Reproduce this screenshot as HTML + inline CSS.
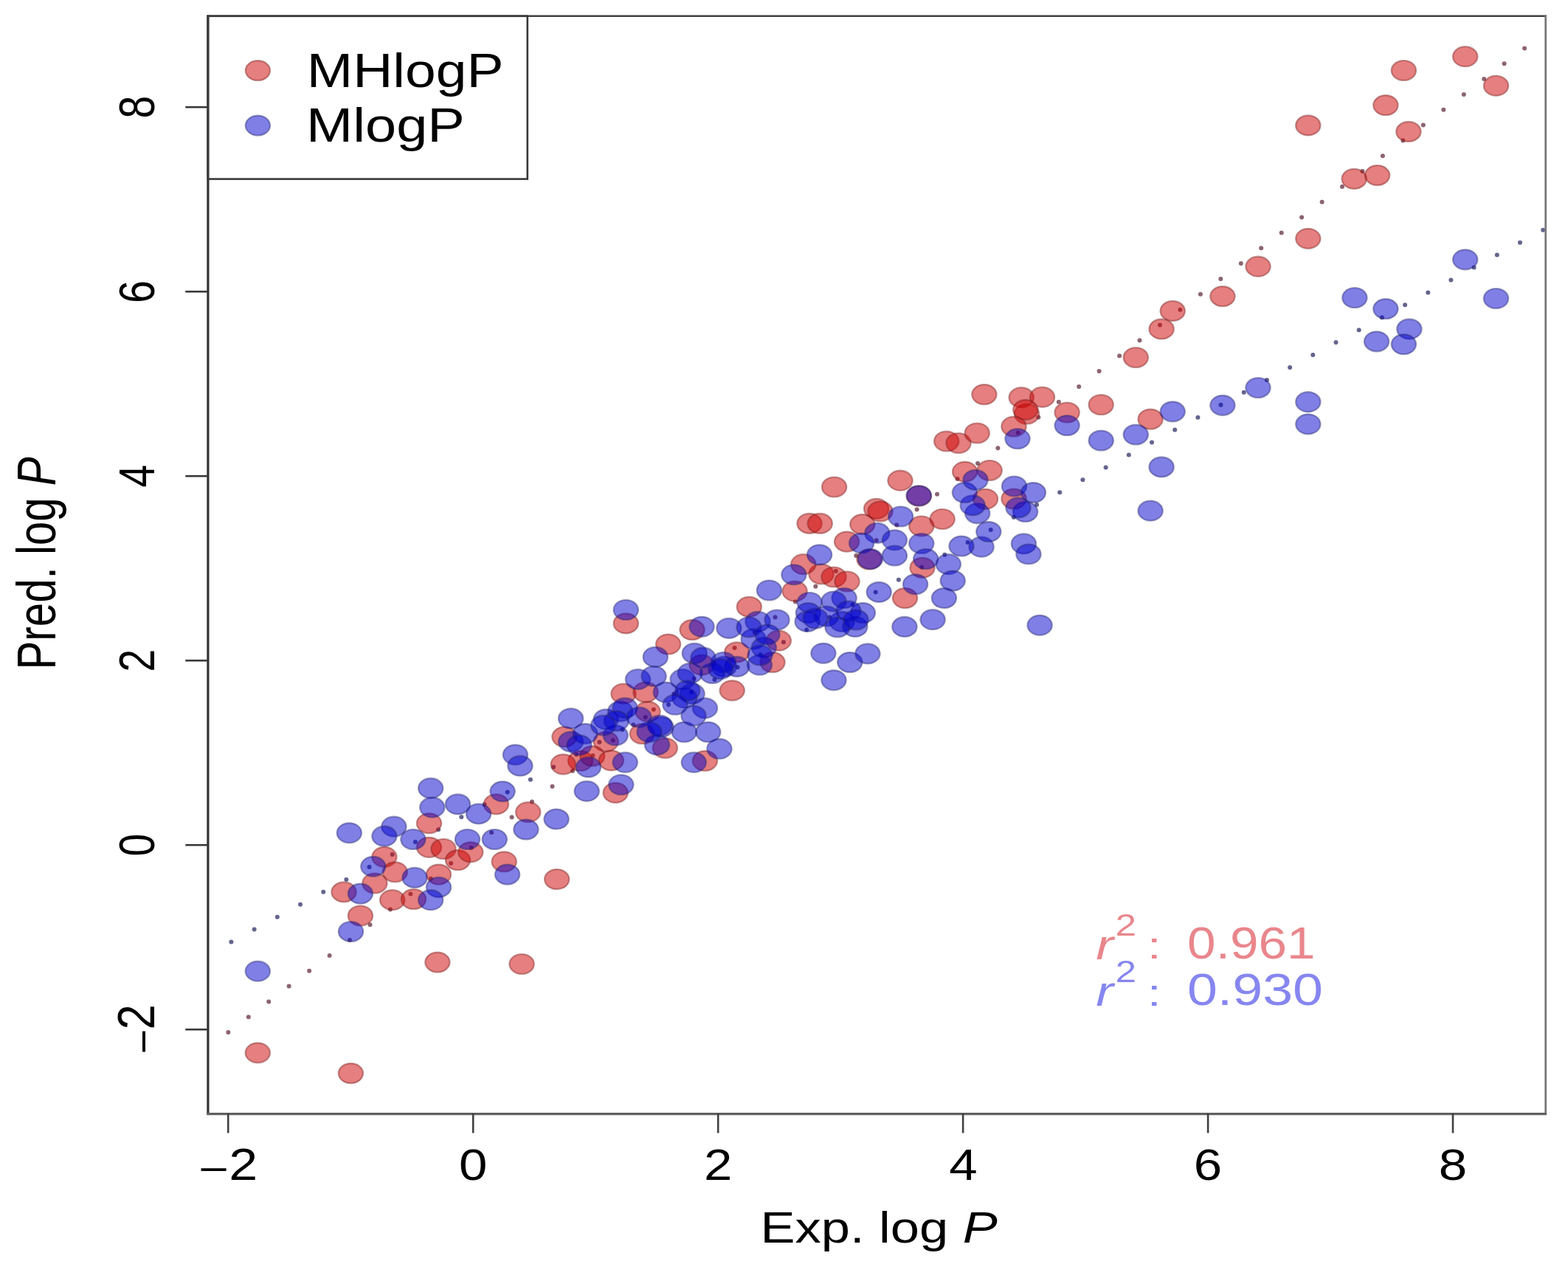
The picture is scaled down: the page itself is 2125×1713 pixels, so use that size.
<!DOCTYPE html>
<html><head><meta charset="utf-8"><title>Exp. log P vs Pred. log P</title>
<style>html,body{margin:0;padding:0;background:#fff;}svg{display:block;}text{font-family:'Liberation Sans',Arial,Helvetica,sans-serif;font-kerning:none}</style></head>
<body><svg xmlns="http://www.w3.org/2000/svg" width="2125" height="1713" viewBox="0 0 2125 1713">
<rect width="2125" height="1713" fill="#fff"/>
<g fill="#8c6470"><circle cx="309.3" cy="1399.1" r="3.0"/><circle cx="336.8" cy="1378.3" r="3.0"/><circle cx="364.2" cy="1357.4" r="3.0"/><circle cx="391.6" cy="1336.6" r="3.0"/><circle cx="419.1" cy="1315.7" r="3.0"/><circle cx="446.6" cy="1294.9" r="3.0"/><circle cx="474.0" cy="1274.1" r="3.0"/><circle cx="501.5" cy="1253.2" r="3.0"/><circle cx="528.9" cy="1232.4" r="3.0"/><circle cx="556.4" cy="1211.5" r="3.0"/><circle cx="583.8" cy="1190.7" r="3.0"/><circle cx="611.2" cy="1169.9" r="3.0"/><circle cx="638.7" cy="1149.0" r="3.0"/><circle cx="666.1" cy="1128.2" r="3.0"/><circle cx="693.6" cy="1107.4" r="3.0"/><circle cx="721.0" cy="1086.5" r="3.0"/><circle cx="748.5" cy="1065.7" r="3.0"/><circle cx="776.0" cy="1044.8" r="3.0"/><circle cx="803.4" cy="1024.0" r="3.0"/><circle cx="830.8" cy="1003.2" r="3.0"/><circle cx="858.3" cy="982.3" r="3.0"/><circle cx="885.8" cy="961.5" r="3.0"/><circle cx="913.2" cy="940.6" r="3.0"/><circle cx="940.7" cy="919.8" r="3.0"/><circle cx="968.1" cy="899.0" r="3.0"/><circle cx="995.5" cy="878.1" r="3.0"/><circle cx="1023.0" cy="857.3" r="3.0"/><circle cx="1050.5" cy="836.4" r="3.0"/><circle cx="1077.9" cy="815.6" r="3.0"/><circle cx="1105.3" cy="794.8" r="3.0"/><circle cx="1132.8" cy="773.9" r="3.0"/><circle cx="1160.2" cy="753.1" r="3.0"/><circle cx="1187.7" cy="732.2" r="3.0"/><circle cx="1215.2" cy="711.4" r="3.0"/><circle cx="1242.6" cy="690.6" r="3.0"/><circle cx="1270.0" cy="669.7" r="3.0"/><circle cx="1297.5" cy="648.9" r="3.0"/><circle cx="1325.0" cy="628.1" r="3.0"/><circle cx="1352.4" cy="607.2" r="3.0"/><circle cx="1379.8" cy="586.4" r="3.0"/><circle cx="1407.3" cy="565.5" r="3.0"/><circle cx="1434.8" cy="544.7" r="3.0"/><circle cx="1462.2" cy="523.9" r="3.0"/><circle cx="1489.6" cy="503.0" r="3.0"/><circle cx="1517.1" cy="482.2" r="3.0"/><circle cx="1544.5" cy="461.3" r="3.0"/><circle cx="1572.0" cy="440.5" r="3.0"/><circle cx="1599.4" cy="419.7" r="3.0"/><circle cx="1626.9" cy="398.8" r="3.0"/><circle cx="1654.3" cy="378.0" r="3.0"/><circle cx="1681.8" cy="357.1" r="3.0"/><circle cx="1709.2" cy="336.3" r="3.0"/><circle cx="1736.7" cy="315.5" r="3.0"/><circle cx="1764.1" cy="294.6" r="3.0"/><circle cx="1791.6" cy="273.8" r="3.0"/><circle cx="1819.0" cy="253.0" r="3.0"/><circle cx="1846.5" cy="232.1" r="3.0"/><circle cx="1873.9" cy="211.3" r="3.0"/><circle cx="1901.4" cy="190.4" r="3.0"/><circle cx="1928.8" cy="169.6" r="3.0"/><circle cx="1956.3" cy="148.8" r="3.0"/><circle cx="1983.8" cy="127.9" r="3.0"/><circle cx="2011.2" cy="107.1" r="3.0"/><circle cx="2038.6" cy="86.2" r="3.0"/><circle cx="2066.1" cy="65.4" r="3.0"/></g>
<g fill="#64648e"><circle cx="313.4" cy="1276.5" r="3.0"/><circle cx="344.6" cy="1259.6" r="3.0"/><circle cx="375.8" cy="1242.7" r="3.0"/><circle cx="407.0" cy="1225.7" r="3.0"/><circle cx="438.2" cy="1208.8" r="3.0"/><circle cx="469.3" cy="1191.9" r="3.0"/><circle cx="500.5" cy="1175.0" r="3.0"/><circle cx="531.7" cy="1158.0" r="3.0"/><circle cx="562.9" cy="1141.1" r="3.0"/><circle cx="594.1" cy="1124.2" r="3.0"/><circle cx="625.3" cy="1107.3" r="3.0"/><circle cx="656.5" cy="1090.3" r="3.0"/><circle cx="687.7" cy="1073.4" r="3.0"/><circle cx="718.9" cy="1056.5" r="3.0"/><circle cx="750.1" cy="1039.6" r="3.0"/><circle cx="781.2" cy="1022.6" r="3.0"/><circle cx="812.4" cy="1005.7" r="3.0"/><circle cx="843.6" cy="988.8" r="3.0"/><circle cx="874.8" cy="971.9" r="3.0"/><circle cx="906.0" cy="954.9" r="3.0"/><circle cx="937.2" cy="938.0" r="3.0"/><circle cx="968.4" cy="921.1" r="3.0"/><circle cx="999.6" cy="904.2" r="3.0"/><circle cx="1030.8" cy="887.2" r="3.0"/><circle cx="1061.9" cy="870.3" r="3.0"/><circle cx="1093.1" cy="853.4" r="3.0"/><circle cx="1124.3" cy="836.5" r="3.0"/><circle cx="1155.5" cy="819.5" r="3.0"/><circle cx="1186.7" cy="802.6" r="3.0"/><circle cx="1217.9" cy="785.7" r="3.0"/><circle cx="1249.1" cy="768.8" r="3.0"/><circle cx="1280.3" cy="751.8" r="3.0"/><circle cx="1311.5" cy="734.9" r="3.0"/><circle cx="1342.7" cy="718.0" r="3.0"/><circle cx="1373.8" cy="701.1" r="3.0"/><circle cx="1405.0" cy="684.1" r="3.0"/><circle cx="1436.2" cy="667.2" r="3.0"/><circle cx="1467.4" cy="650.3" r="3.0"/><circle cx="1498.6" cy="633.4" r="3.0"/><circle cx="1529.8" cy="616.4" r="3.0"/><circle cx="1561.0" cy="599.5" r="3.0"/><circle cx="1592.2" cy="582.6" r="3.0"/><circle cx="1623.4" cy="565.7" r="3.0"/><circle cx="1654.5" cy="548.7" r="3.0"/><circle cx="1685.7" cy="531.8" r="3.0"/><circle cx="1716.9" cy="514.9" r="3.0"/><circle cx="1748.1" cy="498.0" r="3.0"/><circle cx="1779.3" cy="481.0" r="3.0"/><circle cx="1810.5" cy="464.1" r="3.0"/><circle cx="1841.7" cy="447.2" r="3.0"/><circle cx="1872.9" cy="430.3" r="3.0"/><circle cx="1904.1" cy="413.3" r="3.0"/><circle cx="1935.3" cy="396.4" r="3.0"/><circle cx="1966.4" cy="379.5" r="3.0"/><circle cx="1997.6" cy="362.6" r="3.0"/><circle cx="2028.8" cy="345.6" r="3.0"/><circle cx="2060.0" cy="328.7" r="3.0"/><circle cx="2091.2" cy="311.8" r="3.0"/></g>
<g stroke-width="2.2">
<ellipse cx="1985.7" cy="76.7" rx="16.7" ry="13.5" fill="rgba(205,0,0,0.5)" stroke="rgba(120,30,30,0.42)"/>
<ellipse cx="1902.4" cy="95.5" rx="16.7" ry="13.5" fill="rgba(205,0,0,0.5)" stroke="rgba(120,30,30,0.42)"/>
<ellipse cx="2027.5" cy="116.2" rx="16.7" ry="13.5" fill="rgba(205,0,0,0.5)" stroke="rgba(120,30,30,0.42)"/>
<ellipse cx="1877.9" cy="142.6" rx="16.7" ry="13.5" fill="rgba(205,0,0,0.5)" stroke="rgba(120,30,30,0.42)"/>
<ellipse cx="1772.8" cy="169.9" rx="16.7" ry="13.5" fill="rgba(205,0,0,0.5)" stroke="rgba(120,30,30,0.42)"/>
<ellipse cx="1908.9" cy="178.4" rx="16.7" ry="13.5" fill="rgba(205,0,0,0.5)" stroke="rgba(120,30,30,0.42)"/>
<ellipse cx="1835.2" cy="242.4" rx="16.7" ry="13.5" fill="rgba(205,0,0,0.5)" stroke="rgba(120,30,30,0.42)"/>
<ellipse cx="1866.6" cy="237.6" rx="16.7" ry="13.5" fill="rgba(205,0,0,0.5)" stroke="rgba(120,30,30,0.42)"/>
<ellipse cx="1772.8" cy="323.3" rx="16.7" ry="13.5" fill="rgba(205,0,0,0.5)" stroke="rgba(120,30,30,0.42)"/>
<ellipse cx="1705.0" cy="361.2" rx="16.7" ry="13.5" fill="rgba(205,0,0,0.5)" stroke="rgba(120,30,30,0.42)"/>
<ellipse cx="1656.9" cy="401.6" rx="16.7" ry="13.5" fill="rgba(205,0,0,0.5)" stroke="rgba(120,30,30,0.42)"/>
<ellipse cx="1589.2" cy="421.4" rx="16.7" ry="13.5" fill="rgba(205,0,0,0.5)" stroke="rgba(120,30,30,0.42)"/>
<ellipse cx="1574.1" cy="445.9" rx="16.7" ry="13.5" fill="rgba(205,0,0,0.5)" stroke="rgba(120,30,30,0.42)"/>
<ellipse cx="1539.3" cy="484.5" rx="16.7" ry="13.5" fill="rgba(205,0,0,0.5)" stroke="rgba(120,30,30,0.42)"/>
<ellipse cx="1492.2" cy="548.5" rx="16.7" ry="13.5" fill="rgba(205,0,0,0.5)" stroke="rgba(120,30,30,0.42)"/>
<ellipse cx="1446.1" cy="559.0" rx="16.7" ry="13.5" fill="rgba(205,0,0,0.5)" stroke="rgba(120,30,30,0.42)"/>
<ellipse cx="1559.1" cy="568.1" rx="16.7" ry="13.5" fill="rgba(205,0,0,0.5)" stroke="rgba(120,30,30,0.42)"/>
<ellipse cx="1333.9" cy="534.6" rx="16.7" ry="13.5" fill="rgba(205,0,0,0.5)" stroke="rgba(120,30,30,0.42)"/>
<ellipse cx="1384.2" cy="538.7" rx="16.7" ry="13.5" fill="rgba(205,0,0,0.5)" stroke="rgba(120,30,30,0.42)"/>
<ellipse cx="1412.5" cy="538.2" rx="16.7" ry="13.5" fill="rgba(205,0,0,0.5)" stroke="rgba(120,30,30,0.42)"/>
<ellipse cx="1391.5" cy="561.0" rx="16.7" ry="13.5" fill="rgba(205,0,0,0.5)" stroke="rgba(120,30,30,0.42)"/>
<ellipse cx="1374.0" cy="578.0" rx="16.7" ry="13.5" fill="rgba(205,0,0,0.5)" stroke="rgba(120,30,30,0.42)"/>
<ellipse cx="1282.7" cy="598.0" rx="16.7" ry="13.5" fill="rgba(205,0,0,0.5)" stroke="rgba(120,30,30,0.42)"/>
<ellipse cx="1299.0" cy="600.5" rx="16.7" ry="13.5" fill="rgba(205,0,0,0.5)" stroke="rgba(120,30,30,0.42)"/>
<ellipse cx="1324.2" cy="587.0" rx="16.7" ry="13.5" fill="rgba(205,0,0,0.5)" stroke="rgba(120,30,30,0.42)"/>
<ellipse cx="1307.6" cy="639.3" rx="16.7" ry="13.5" fill="rgba(205,0,0,0.5)" stroke="rgba(120,30,30,0.42)"/>
<ellipse cx="1341.2" cy="637.5" rx="16.7" ry="13.5" fill="rgba(205,0,0,0.5)" stroke="rgba(120,30,30,0.42)"/>
<ellipse cx="1335.5" cy="676.3" rx="16.7" ry="13.5" fill="rgba(205,0,0,0.5)" stroke="rgba(120,30,30,0.42)"/>
<ellipse cx="848.3" cy="844.9" rx="16.7" ry="13.5" fill="rgba(205,0,0,0.5)" stroke="rgba(120,30,30,0.42)"/>
<ellipse cx="834.2" cy="1074.4" rx="16.7" ry="13.5" fill="rgba(205,0,0,0.5)" stroke="rgba(120,30,30,0.42)"/>
<ellipse cx="955.4" cy="1031.1" rx="16.7" ry="13.5" fill="rgba(205,0,0,0.5)" stroke="rgba(120,30,30,0.42)"/>
<ellipse cx="992.2" cy="935.8" rx="16.7" ry="13.5" fill="rgba(205,0,0,0.5)" stroke="rgba(120,30,30,0.42)"/>
<ellipse cx="938.1" cy="853.6" rx="16.7" ry="13.5" fill="rgba(205,0,0,0.5)" stroke="rgba(120,30,30,0.42)"/>
<ellipse cx="905.6" cy="873.1" rx="16.7" ry="13.5" fill="rgba(205,0,0,0.5)" stroke="rgba(120,30,30,0.42)"/>
<ellipse cx="845.0" cy="940.2" rx="16.7" ry="13.5" fill="rgba(205,0,0,0.5)" stroke="rgba(120,30,30,0.42)"/>
<ellipse cx="765.0" cy="998.6" rx="16.7" ry="13.5" fill="rgba(205,0,0,0.5)" stroke="rgba(120,30,30,0.42)"/>
<ellipse cx="786.6" cy="1031.1" rx="16.7" ry="13.5" fill="rgba(205,0,0,0.5)" stroke="rgba(120,30,30,0.42)"/>
<ellipse cx="821.2" cy="1005.1" rx="16.7" ry="13.5" fill="rgba(205,0,0,0.5)" stroke="rgba(120,30,30,0.42)"/>
<ellipse cx="901.3" cy="1013.8" rx="16.7" ry="13.5" fill="rgba(205,0,0,0.5)" stroke="rgba(120,30,30,0.42)"/>
<ellipse cx="951.1" cy="901.2" rx="16.7" ry="13.5" fill="rgba(205,0,0,0.5)" stroke="rgba(120,30,30,0.42)"/>
<ellipse cx="998.7" cy="883.9" rx="16.7" ry="13.5" fill="rgba(205,0,0,0.5)" stroke="rgba(120,30,30,0.42)"/>
<ellipse cx="878.0" cy="964.3" rx="16.7" ry="13.5" fill="rgba(205,0,0,0.5)" stroke="rgba(120,30,30,0.42)"/>
<ellipse cx="802.7" cy="1024.6" rx="16.7" ry="13.5" fill="rgba(205,0,0,0.5)" stroke="rgba(120,30,30,0.42)"/>
<ellipse cx="828.3" cy="1030.6" rx="16.7" ry="13.5" fill="rgba(205,0,0,0.5)" stroke="rgba(120,30,30,0.42)"/>
<ellipse cx="870.4" cy="994.5" rx="16.7" ry="13.5" fill="rgba(205,0,0,0.5)" stroke="rgba(120,30,30,0.42)"/>
<ellipse cx="875.0" cy="938.0" rx="16.7" ry="13.5" fill="rgba(205,0,0,0.5)" stroke="rgba(120,30,30,0.42)"/>
<ellipse cx="672.4" cy="1089.9" rx="16.7" ry="13.5" fill="rgba(205,0,0,0.5)" stroke="rgba(120,30,30,0.42)"/>
<ellipse cx="715.7" cy="1100.7" rx="16.7" ry="13.5" fill="rgba(205,0,0,0.5)" stroke="rgba(120,30,30,0.42)"/>
<ellipse cx="581.5" cy="1115.8" rx="16.7" ry="13.5" fill="rgba(205,0,0,0.5)" stroke="rgba(120,30,30,0.42)"/>
<ellipse cx="581.5" cy="1148.3" rx="16.7" ry="13.5" fill="rgba(205,0,0,0.5)" stroke="rgba(120,30,30,0.42)"/>
<ellipse cx="601.0" cy="1150.5" rx="16.7" ry="13.5" fill="rgba(205,0,0,0.5)" stroke="rgba(120,30,30,0.42)"/>
<ellipse cx="620.5" cy="1165.6" rx="16.7" ry="13.5" fill="rgba(205,0,0,0.5)" stroke="rgba(120,30,30,0.42)"/>
<ellipse cx="637.8" cy="1154.8" rx="16.7" ry="13.5" fill="rgba(205,0,0,0.5)" stroke="rgba(120,30,30,0.42)"/>
<ellipse cx="683.2" cy="1167.8" rx="16.7" ry="13.5" fill="rgba(205,0,0,0.5)" stroke="rgba(120,30,30,0.42)"/>
<ellipse cx="754.7" cy="1191.6" rx="16.7" ry="13.5" fill="rgba(205,0,0,0.5)" stroke="rgba(120,30,30,0.42)"/>
<ellipse cx="520.9" cy="1161.3" rx="16.7" ry="13.5" fill="rgba(205,0,0,0.5)" stroke="rgba(120,30,30,0.42)"/>
<ellipse cx="535.3" cy="1181.8" rx="16.7" ry="13.5" fill="rgba(205,0,0,0.5)" stroke="rgba(120,30,30,0.42)"/>
<ellipse cx="594.5" cy="1185.1" rx="16.7" ry="13.5" fill="rgba(205,0,0,0.5)" stroke="rgba(120,30,30,0.42)"/>
<ellipse cx="507.9" cy="1197.0" rx="16.7" ry="13.5" fill="rgba(205,0,0,0.5)" stroke="rgba(120,30,30,0.42)"/>
<ellipse cx="466.0" cy="1208.9" rx="16.7" ry="13.5" fill="rgba(205,0,0,0.5)" stroke="rgba(120,30,30,0.42)"/>
<ellipse cx="531.7" cy="1219.7" rx="16.7" ry="13.5" fill="rgba(205,0,0,0.5)" stroke="rgba(120,30,30,0.42)"/>
<ellipse cx="560.5" cy="1218.6" rx="16.7" ry="13.5" fill="rgba(205,0,0,0.5)" stroke="rgba(120,30,30,0.42)"/>
<ellipse cx="488.4" cy="1241.0" rx="16.7" ry="13.5" fill="rgba(205,0,0,0.5)" stroke="rgba(120,30,30,0.42)"/>
<ellipse cx="763.3" cy="1035.8" rx="16.7" ry="13.5" fill="rgba(205,0,0,0.5)" stroke="rgba(120,30,30,0.42)"/>
<ellipse cx="592.9" cy="1304.1" rx="16.7" ry="13.5" fill="rgba(205,0,0,0.5)" stroke="rgba(120,30,30,0.42)"/>
<ellipse cx="707.1" cy="1306.5" rx="16.7" ry="13.5" fill="rgba(205,0,0,0.5)" stroke="rgba(120,30,30,0.42)"/>
<ellipse cx="349.3" cy="1426.8" rx="16.7" ry="13.5" fill="rgba(205,0,0,0.5)" stroke="rgba(120,30,30,0.42)"/>
<ellipse cx="475.4" cy="1454.6" rx="16.7" ry="13.5" fill="rgba(205,0,0,0.5)" stroke="rgba(120,30,30,0.42)"/>
<ellipse cx="1130.6" cy="660.0" rx="16.7" ry="13.5" fill="rgba(205,0,0,0.5)" stroke="rgba(120,30,30,0.42)"/>
<ellipse cx="1220.0" cy="651.2" rx="16.7" ry="13.5" fill="rgba(205,0,0,0.5)" stroke="rgba(120,30,30,0.42)"/>
<ellipse cx="1187.6" cy="689.4" rx="16.7" ry="13.5" fill="rgba(205,0,0,0.5)" stroke="rgba(120,30,30,0.42)"/>
<ellipse cx="1097.0" cy="709.4" rx="16.7" ry="13.5" fill="rgba(205,0,0,0.5)" stroke="rgba(120,30,30,0.42)"/>
<ellipse cx="1111.2" cy="709.4" rx="16.7" ry="13.5" fill="rgba(205,0,0,0.5)" stroke="rgba(120,30,30,0.42)"/>
<ellipse cx="1168.8" cy="710.6" rx="16.7" ry="13.5" fill="rgba(205,0,0,0.5)" stroke="rgba(120,30,30,0.42)"/>
<ellipse cx="1248.8" cy="713.0" rx="16.7" ry="13.5" fill="rgba(205,0,0,0.5)" stroke="rgba(120,30,30,0.42)"/>
<ellipse cx="1277.1" cy="703.5" rx="16.7" ry="13.5" fill="rgba(205,0,0,0.5)" stroke="rgba(120,30,30,0.42)"/>
<ellipse cx="1147.6" cy="734.1" rx="16.7" ry="13.5" fill="rgba(205,0,0,0.5)" stroke="rgba(120,30,30,0.42)"/>
<ellipse cx="1113.0" cy="778.0" rx="16.7" ry="13.5" fill="rgba(205,0,0,0.5)" stroke="rgba(120,30,30,0.42)"/>
<ellipse cx="1130.0" cy="782.0" rx="16.7" ry="13.5" fill="rgba(205,0,0,0.5)" stroke="rgba(120,30,30,0.42)"/>
<ellipse cx="1148.0" cy="788.0" rx="16.7" ry="13.5" fill="rgba(205,0,0,0.5)" stroke="rgba(120,30,30,0.42)"/>
<ellipse cx="1088.8" cy="764.7" rx="16.7" ry="13.5" fill="rgba(205,0,0,0.5)" stroke="rgba(120,30,30,0.42)"/>
<ellipse cx="1077.1" cy="801.2" rx="16.7" ry="13.5" fill="rgba(205,0,0,0.5)" stroke="rgba(120,30,30,0.42)"/>
<ellipse cx="1226.5" cy="810.6" rx="16.7" ry="13.5" fill="rgba(205,0,0,0.5)" stroke="rgba(120,30,30,0.42)"/>
<ellipse cx="1250.0" cy="769.4" rx="16.7" ry="13.5" fill="rgba(205,0,0,0.5)" stroke="rgba(120,30,30,0.42)"/>
<ellipse cx="1245.3" cy="672.0" rx="16.7" ry="13.5" fill="rgba(205,0,0,0.5)" stroke="rgba(120,30,30,0.42)"/>
<ellipse cx="1178.0" cy="758.0" rx="16.7" ry="13.5" fill="rgba(205,0,0,0.5)" stroke="rgba(120,30,30,0.42)"/>
<ellipse cx="1015.3" cy="822.4" rx="16.7" ry="13.5" fill="rgba(205,0,0,0.5)" stroke="rgba(120,30,30,0.42)"/>
<ellipse cx="1055.3" cy="868.2" rx="16.7" ry="13.5" fill="rgba(205,0,0,0.5)" stroke="rgba(120,30,30,0.42)"/>
<ellipse cx="1047.0" cy="897.6" rx="16.7" ry="13.5" fill="rgba(205,0,0,0.5)" stroke="rgba(120,30,30,0.42)"/>
<ellipse cx="1374.0" cy="676.0" rx="16.7" ry="13.5" fill="rgba(205,0,0,0.5)" stroke="rgba(120,30,30,0.42)"/>
<ellipse cx="1193.0" cy="693.0" rx="16.7" ry="13.5" fill="rgba(205,0,0,0.5)" stroke="rgba(120,30,30,0.42)"/>
<ellipse cx="1389.8" cy="555.3" rx="16.7" ry="13.5" fill="rgba(205,0,0,0.5)" stroke="rgba(120,30,30,0.42)"/>
<ellipse cx="1985.7" cy="351.8" rx="16.7" ry="13.5" fill="rgba(0,0,205,0.5)" stroke="rgba(40,40,110,0.42)"/>
<ellipse cx="1835.9" cy="403.5" rx="16.7" ry="13.5" fill="rgba(0,0,205,0.5)" stroke="rgba(40,40,110,0.42)"/>
<ellipse cx="1877.9" cy="418.6" rx="16.7" ry="13.5" fill="rgba(0,0,205,0.5)" stroke="rgba(40,40,110,0.42)"/>
<ellipse cx="2027.5" cy="404.5" rx="16.7" ry="13.5" fill="rgba(0,0,205,0.5)" stroke="rgba(40,40,110,0.42)"/>
<ellipse cx="1909.9" cy="445.9" rx="16.7" ry="13.5" fill="rgba(0,0,205,0.5)" stroke="rgba(40,40,110,0.42)"/>
<ellipse cx="1865.6" cy="462.8" rx="16.7" ry="13.5" fill="rgba(0,0,205,0.5)" stroke="rgba(40,40,110,0.42)"/>
<ellipse cx="1902.4" cy="466.6" rx="16.7" ry="13.5" fill="rgba(0,0,205,0.5)" stroke="rgba(40,40,110,0.42)"/>
<ellipse cx="1705.0" cy="525.5" rx="16.7" ry="13.5" fill="rgba(0,0,205,0.5)" stroke="rgba(40,40,110,0.42)"/>
<ellipse cx="1772.8" cy="544.7" rx="16.7" ry="13.5" fill="rgba(0,0,205,0.5)" stroke="rgba(40,40,110,0.42)"/>
<ellipse cx="1772.8" cy="574.8" rx="16.7" ry="13.5" fill="rgba(0,0,205,0.5)" stroke="rgba(40,40,110,0.42)"/>
<ellipse cx="1656.9" cy="549.3" rx="16.7" ry="13.5" fill="rgba(0,0,205,0.5)" stroke="rgba(40,40,110,0.42)"/>
<ellipse cx="1589.2" cy="557.8" rx="16.7" ry="13.5" fill="rgba(0,0,205,0.5)" stroke="rgba(40,40,110,0.42)"/>
<ellipse cx="1539.3" cy="589.0" rx="16.7" ry="13.5" fill="rgba(0,0,205,0.5)" stroke="rgba(40,40,110,0.42)"/>
<ellipse cx="1492.2" cy="597.0" rx="16.7" ry="13.5" fill="rgba(0,0,205,0.5)" stroke="rgba(40,40,110,0.42)"/>
<ellipse cx="1446.1" cy="576.6" rx="16.7" ry="13.5" fill="rgba(0,0,205,0.5)" stroke="rgba(40,40,110,0.42)"/>
<ellipse cx="1574.1" cy="632.9" rx="16.7" ry="13.5" fill="rgba(0,0,205,0.5)" stroke="rgba(40,40,110,0.42)"/>
<ellipse cx="1559.1" cy="692.2" rx="16.7" ry="13.5" fill="rgba(0,0,205,0.5)" stroke="rgba(40,40,110,0.42)"/>
<ellipse cx="1379.0" cy="594.6" rx="16.7" ry="13.5" fill="rgba(0,0,205,0.5)" stroke="rgba(40,40,110,0.42)"/>
<ellipse cx="1409.1" cy="847.3" rx="16.7" ry="13.5" fill="rgba(0,0,205,0.5)" stroke="rgba(40,40,110,0.42)"/>
<ellipse cx="1264.1" cy="839.7" rx="16.7" ry="13.5" fill="rgba(0,0,205,0.5)" stroke="rgba(40,40,110,0.42)"/>
<ellipse cx="1387.4" cy="736.9" rx="16.7" ry="13.5" fill="rgba(0,0,205,0.5)" stroke="rgba(40,40,110,0.42)"/>
<ellipse cx="1393.9" cy="751.0" rx="16.7" ry="13.5" fill="rgba(0,0,205,0.5)" stroke="rgba(40,40,110,0.42)"/>
<ellipse cx="1330.1" cy="741.2" rx="16.7" ry="13.5" fill="rgba(0,0,205,0.5)" stroke="rgba(40,40,110,0.42)"/>
<ellipse cx="1303.0" cy="740.1" rx="16.7" ry="13.5" fill="rgba(0,0,205,0.5)" stroke="rgba(40,40,110,0.42)"/>
<ellipse cx="1339.8" cy="720.6" rx="16.7" ry="13.5" fill="rgba(0,0,205,0.5)" stroke="rgba(40,40,110,0.42)"/>
<ellipse cx="1324.7" cy="695.8" rx="16.7" ry="13.5" fill="rgba(0,0,205,0.5)" stroke="rgba(40,40,110,0.42)"/>
<ellipse cx="1318.2" cy="684.9" rx="16.7" ry="13.5" fill="rgba(0,0,205,0.5)" stroke="rgba(40,40,110,0.42)"/>
<ellipse cx="1307.4" cy="667.6" rx="16.7" ry="13.5" fill="rgba(0,0,205,0.5)" stroke="rgba(40,40,110,0.42)"/>
<ellipse cx="1374.5" cy="659.0" rx="16.7" ry="13.5" fill="rgba(0,0,205,0.5)" stroke="rgba(40,40,110,0.42)"/>
<ellipse cx="1400.4" cy="667.6" rx="16.7" ry="13.5" fill="rgba(0,0,205,0.5)" stroke="rgba(40,40,110,0.42)"/>
<ellipse cx="1389.6" cy="693.6" rx="16.7" ry="13.5" fill="rgba(0,0,205,0.5)" stroke="rgba(40,40,110,0.42)"/>
<ellipse cx="848.3" cy="826.5" rx="16.7" ry="13.5" fill="rgba(0,0,205,0.5)" stroke="rgba(40,40,110,0.42)"/>
<ellipse cx="773.6" cy="973.7" rx="16.7" ry="13.5" fill="rgba(0,0,205,0.5)" stroke="rgba(40,40,110,0.42)"/>
<ellipse cx="795.2" cy="1072.2" rx="16.7" ry="13.5" fill="rgba(0,0,205,0.5)" stroke="rgba(40,40,110,0.42)"/>
<ellipse cx="841.8" cy="1063.5" rx="16.7" ry="13.5" fill="rgba(0,0,205,0.5)" stroke="rgba(40,40,110,0.42)"/>
<ellipse cx="754.1" cy="1110.1" rx="16.7" ry="13.5" fill="rgba(0,0,205,0.5)" stroke="rgba(40,40,110,0.42)"/>
<ellipse cx="959.7" cy="992.1" rx="16.7" ry="13.5" fill="rgba(0,0,205,0.5)" stroke="rgba(40,40,110,0.42)"/>
<ellipse cx="974.9" cy="1014.8" rx="16.7" ry="13.5" fill="rgba(0,0,205,0.5)" stroke="rgba(40,40,110,0.42)"/>
<ellipse cx="940.3" cy="1033.2" rx="16.7" ry="13.5" fill="rgba(0,0,205,0.5)" stroke="rgba(40,40,110,0.42)"/>
<ellipse cx="927.3" cy="992.1" rx="16.7" ry="13.5" fill="rgba(0,0,205,0.5)" stroke="rgba(40,40,110,0.42)"/>
<ellipse cx="951.1" cy="849.3" rx="16.7" ry="13.5" fill="rgba(0,0,205,0.5)" stroke="rgba(40,40,110,0.42)"/>
<ellipse cx="888.3" cy="890.4" rx="16.7" ry="13.5" fill="rgba(0,0,205,0.5)" stroke="rgba(40,40,110,0.42)"/>
<ellipse cx="987.9" cy="851.4" rx="16.7" ry="13.5" fill="rgba(0,0,205,0.5)" stroke="rgba(40,40,110,0.42)"/>
<ellipse cx="864.5" cy="920.7" rx="16.7" ry="13.5" fill="rgba(0,0,205,0.5)" stroke="rgba(40,40,110,0.42)"/>
<ellipse cx="886.1" cy="916.4" rx="16.7" ry="13.5" fill="rgba(0,0,205,0.5)" stroke="rgba(40,40,110,0.42)"/>
<ellipse cx="773.6" cy="1005.1" rx="16.7" ry="13.5" fill="rgba(0,0,205,0.5)" stroke="rgba(40,40,110,0.42)"/>
<ellipse cx="797.4" cy="1039.7" rx="16.7" ry="13.5" fill="rgba(0,0,205,0.5)" stroke="rgba(40,40,110,0.42)"/>
<ellipse cx="793.1" cy="994.3" rx="16.7" ry="13.5" fill="rgba(0,0,205,0.5)" stroke="rgba(40,40,110,0.42)"/>
<ellipse cx="821.2" cy="974.8" rx="16.7" ry="13.5" fill="rgba(0,0,205,0.5)" stroke="rgba(40,40,110,0.42)"/>
<ellipse cx="840.7" cy="964.0" rx="16.7" ry="13.5" fill="rgba(0,0,205,0.5)" stroke="rgba(40,40,110,0.42)"/>
<ellipse cx="834.2" cy="996.5" rx="16.7" ry="13.5" fill="rgba(0,0,205,0.5)" stroke="rgba(40,40,110,0.42)"/>
<ellipse cx="847.2" cy="1033.2" rx="16.7" ry="13.5" fill="rgba(0,0,205,0.5)" stroke="rgba(40,40,110,0.42)"/>
<ellipse cx="890.5" cy="1009.4" rx="16.7" ry="13.5" fill="rgba(0,0,205,0.5)" stroke="rgba(40,40,110,0.42)"/>
<ellipse cx="925.1" cy="920.7" rx="16.7" ry="13.5" fill="rgba(0,0,205,0.5)" stroke="rgba(40,40,110,0.42)"/>
<ellipse cx="938.1" cy="940.2" rx="16.7" ry="13.5" fill="rgba(0,0,205,0.5)" stroke="rgba(40,40,110,0.42)"/>
<ellipse cx="955.4" cy="959.7" rx="16.7" ry="13.5" fill="rgba(0,0,205,0.5)" stroke="rgba(40,40,110,0.42)"/>
<ellipse cx="981.4" cy="903.4" rx="16.7" ry="13.5" fill="rgba(0,0,205,0.5)" stroke="rgba(40,40,110,0.42)"/>
<ellipse cx="998.7" cy="903.4" rx="16.7" ry="13.5" fill="rgba(0,0,205,0.5)" stroke="rgba(40,40,110,0.42)"/>
<ellipse cx="941.3" cy="885.4" rx="16.7" ry="13.5" fill="rgba(0,0,205,0.5)" stroke="rgba(40,40,110,0.42)"/>
<ellipse cx="980.5" cy="897.5" rx="16.7" ry="13.5" fill="rgba(0,0,205,0.5)" stroke="rgba(40,40,110,0.42)"/>
<ellipse cx="965.4" cy="912.5" rx="16.7" ry="13.5" fill="rgba(0,0,205,0.5)" stroke="rgba(40,40,110,0.42)"/>
<ellipse cx="927.8" cy="945.7" rx="16.7" ry="13.5" fill="rgba(0,0,205,0.5)" stroke="rgba(40,40,110,0.42)"/>
<ellipse cx="902.2" cy="938.1" rx="16.7" ry="13.5" fill="rgba(0,0,205,0.5)" stroke="rgba(40,40,110,0.42)"/>
<ellipse cx="896.0" cy="985.4" rx="16.7" ry="13.5" fill="rgba(0,0,205,0.5)" stroke="rgba(40,40,110,0.42)"/>
<ellipse cx="698.4" cy="1022.8" rx="16.7" ry="13.5" fill="rgba(0,0,205,0.5)" stroke="rgba(40,40,110,0.42)"/>
<ellipse cx="704.9" cy="1037.9" rx="16.7" ry="13.5" fill="rgba(0,0,205,0.5)" stroke="rgba(40,40,110,0.42)"/>
<ellipse cx="681.1" cy="1072.6" rx="16.7" ry="13.5" fill="rgba(0,0,205,0.5)" stroke="rgba(40,40,110,0.42)"/>
<ellipse cx="583.7" cy="1068.2" rx="16.7" ry="13.5" fill="rgba(0,0,205,0.5)" stroke="rgba(40,40,110,0.42)"/>
<ellipse cx="585.8" cy="1094.2" rx="16.7" ry="13.5" fill="rgba(0,0,205,0.5)" stroke="rgba(40,40,110,0.42)"/>
<ellipse cx="620.5" cy="1089.9" rx="16.7" ry="13.5" fill="rgba(0,0,205,0.5)" stroke="rgba(40,40,110,0.42)"/>
<ellipse cx="648.6" cy="1102.9" rx="16.7" ry="13.5" fill="rgba(0,0,205,0.5)" stroke="rgba(40,40,110,0.42)"/>
<ellipse cx="785.0" cy="1009.8" rx="16.7" ry="13.5" fill="rgba(0,0,205,0.5)" stroke="rgba(40,40,110,0.42)"/>
<ellipse cx="533.9" cy="1120.2" rx="16.7" ry="13.5" fill="rgba(0,0,205,0.5)" stroke="rgba(40,40,110,0.42)"/>
<ellipse cx="520.9" cy="1133.2" rx="16.7" ry="13.5" fill="rgba(0,0,205,0.5)" stroke="rgba(40,40,110,0.42)"/>
<ellipse cx="559.9" cy="1137.5" rx="16.7" ry="13.5" fill="rgba(0,0,205,0.5)" stroke="rgba(40,40,110,0.42)"/>
<ellipse cx="473.3" cy="1128.8" rx="16.7" ry="13.5" fill="rgba(0,0,205,0.5)" stroke="rgba(40,40,110,0.42)"/>
<ellipse cx="633.5" cy="1137.5" rx="16.7" ry="13.5" fill="rgba(0,0,205,0.5)" stroke="rgba(40,40,110,0.42)"/>
<ellipse cx="670.3" cy="1137.5" rx="16.7" ry="13.5" fill="rgba(0,0,205,0.5)" stroke="rgba(40,40,110,0.42)"/>
<ellipse cx="712.9" cy="1124.1" rx="16.7" ry="13.5" fill="rgba(0,0,205,0.5)" stroke="rgba(40,40,110,0.42)"/>
<ellipse cx="687.6" cy="1185.1" rx="16.7" ry="13.5" fill="rgba(0,0,205,0.5)" stroke="rgba(40,40,110,0.42)"/>
<ellipse cx="505.8" cy="1174.3" rx="16.7" ry="13.5" fill="rgba(0,0,205,0.5)" stroke="rgba(40,40,110,0.42)"/>
<ellipse cx="562.0" cy="1189.4" rx="16.7" ry="13.5" fill="rgba(0,0,205,0.5)" stroke="rgba(40,40,110,0.42)"/>
<ellipse cx="594.5" cy="1202.4" rx="16.7" ry="13.5" fill="rgba(0,0,205,0.5)" stroke="rgba(40,40,110,0.42)"/>
<ellipse cx="488.4" cy="1211.1" rx="16.7" ry="13.5" fill="rgba(0,0,205,0.5)" stroke="rgba(40,40,110,0.42)"/>
<ellipse cx="583.7" cy="1219.7" rx="16.7" ry="13.5" fill="rgba(0,0,205,0.5)" stroke="rgba(40,40,110,0.42)"/>
<ellipse cx="475.5" cy="1262.5" rx="16.7" ry="13.5" fill="rgba(0,0,205,0.5)" stroke="rgba(40,40,110,0.42)"/>
<ellipse cx="349.3" cy="1316.2" rx="16.7" ry="13.5" fill="rgba(0,0,205,0.5)" stroke="rgba(40,40,110,0.42)"/>
<ellipse cx="1245.3" cy="671.8" rx="16.7" ry="13.5" fill="rgba(0,0,205,0.5)" stroke="rgba(40,40,110,0.42)"/>
<ellipse cx="1220.6" cy="700.0" rx="16.7" ry="13.5" fill="rgba(0,0,205,0.5)" stroke="rgba(40,40,110,0.42)"/>
<ellipse cx="1188.8" cy="722.4" rx="16.7" ry="13.5" fill="rgba(0,0,205,0.5)" stroke="rgba(40,40,110,0.42)"/>
<ellipse cx="1212.4" cy="731.8" rx="16.7" ry="13.5" fill="rgba(0,0,205,0.5)" stroke="rgba(40,40,110,0.42)"/>
<ellipse cx="1248.8" cy="736.5" rx="16.7" ry="13.5" fill="rgba(0,0,205,0.5)" stroke="rgba(40,40,110,0.42)"/>
<ellipse cx="1167.6" cy="736.0" rx="16.7" ry="13.5" fill="rgba(0,0,205,0.5)" stroke="rgba(40,40,110,0.42)"/>
<ellipse cx="1179.4" cy="757.6" rx="16.7" ry="13.5" fill="rgba(0,0,205,0.5)" stroke="rgba(40,40,110,0.42)"/>
<ellipse cx="1212.4" cy="753.0" rx="16.7" ry="13.5" fill="rgba(0,0,205,0.5)" stroke="rgba(40,40,110,0.42)"/>
<ellipse cx="1254.7" cy="757.6" rx="16.7" ry="13.5" fill="rgba(0,0,205,0.5)" stroke="rgba(40,40,110,0.42)"/>
<ellipse cx="1285.3" cy="764.7" rx="16.7" ry="13.5" fill="rgba(0,0,205,0.5)" stroke="rgba(40,40,110,0.42)"/>
<ellipse cx="1110.6" cy="751.8" rx="16.7" ry="13.5" fill="rgba(0,0,205,0.5)" stroke="rgba(40,40,110,0.42)"/>
<ellipse cx="1075.9" cy="778.8" rx="16.7" ry="13.5" fill="rgba(0,0,205,0.5)" stroke="rgba(40,40,110,0.42)"/>
<ellipse cx="1191.2" cy="802.4" rx="16.7" ry="13.5" fill="rgba(0,0,205,0.5)" stroke="rgba(40,40,110,0.42)"/>
<ellipse cx="1240.6" cy="791.8" rx="16.7" ry="13.5" fill="rgba(0,0,205,0.5)" stroke="rgba(40,40,110,0.42)"/>
<ellipse cx="1279.4" cy="810.6" rx="16.7" ry="13.5" fill="rgba(0,0,205,0.5)" stroke="rgba(40,40,110,0.42)"/>
<ellipse cx="1291.2" cy="787.1" rx="16.7" ry="13.5" fill="rgba(0,0,205,0.5)" stroke="rgba(40,40,110,0.42)"/>
<ellipse cx="1144.1" cy="810.6" rx="16.7" ry="13.5" fill="rgba(0,0,205,0.5)" stroke="rgba(40,40,110,0.42)"/>
<ellipse cx="1130.0" cy="815.0" rx="16.7" ry="13.5" fill="rgba(0,0,205,0.5)" stroke="rgba(40,40,110,0.42)"/>
<ellipse cx="1097.1" cy="816.5" rx="16.7" ry="13.5" fill="rgba(0,0,205,0.5)" stroke="rgba(40,40,110,0.42)"/>
<ellipse cx="1042.4" cy="800.0" rx="16.7" ry="13.5" fill="rgba(0,0,205,0.5)" stroke="rgba(40,40,110,0.42)"/>
<ellipse cx="1115.9" cy="885.3" rx="16.7" ry="13.5" fill="rgba(0,0,205,0.5)" stroke="rgba(40,40,110,0.42)"/>
<ellipse cx="1151.8" cy="897.6" rx="16.7" ry="13.5" fill="rgba(0,0,205,0.5)" stroke="rgba(40,40,110,0.42)"/>
<ellipse cx="1175.9" cy="885.9" rx="16.7" ry="13.5" fill="rgba(0,0,205,0.5)" stroke="rgba(40,40,110,0.42)"/>
<ellipse cx="1130.0" cy="921.8" rx="16.7" ry="13.5" fill="rgba(0,0,205,0.5)" stroke="rgba(40,40,110,0.42)"/>
<ellipse cx="1225.9" cy="849.4" rx="16.7" ry="13.5" fill="rgba(0,0,205,0.5)" stroke="rgba(40,40,110,0.42)"/>
<ellipse cx="1095.3" cy="830.6" rx="16.7" ry="13.5" fill="rgba(0,0,205,0.5)" stroke="rgba(40,40,110,0.42)"/>
<ellipse cx="1141.2" cy="842.4" rx="16.7" ry="13.5" fill="rgba(0,0,205,0.5)" stroke="rgba(40,40,110,0.42)"/>
<ellipse cx="1158.8" cy="849.4" rx="16.7" ry="13.5" fill="rgba(0,0,205,0.5)" stroke="rgba(40,40,110,0.42)"/>
<ellipse cx="1169.4" cy="830.6" rx="16.7" ry="13.5" fill="rgba(0,0,205,0.5)" stroke="rgba(40,40,110,0.42)"/>
<ellipse cx="1094.1" cy="842.4" rx="16.7" ry="13.5" fill="rgba(0,0,205,0.5)" stroke="rgba(40,40,110,0.42)"/>
<ellipse cx="1027.0" cy="842.4" rx="16.7" ry="13.5" fill="rgba(0,0,205,0.5)" stroke="rgba(40,40,110,0.42)"/>
<ellipse cx="1053.0" cy="840.0" rx="16.7" ry="13.5" fill="rgba(0,0,205,0.5)" stroke="rgba(40,40,110,0.42)"/>
<ellipse cx="1021.2" cy="865.9" rx="16.7" ry="13.5" fill="rgba(0,0,205,0.5)" stroke="rgba(40,40,110,0.42)"/>
<ellipse cx="1035.3" cy="877.6" rx="16.7" ry="13.5" fill="rgba(0,0,205,0.5)" stroke="rgba(40,40,110,0.42)"/>
<ellipse cx="1029.4" cy="901.2" rx="16.7" ry="13.5" fill="rgba(0,0,205,0.5)" stroke="rgba(40,40,110,0.42)"/>
<ellipse cx="1120.0" cy="835.0" rx="16.7" ry="13.5" fill="rgba(0,0,205,0.5)" stroke="rgba(40,40,110,0.42)"/>
<ellipse cx="1105.0" cy="838.0" rx="16.7" ry="13.5" fill="rgba(0,0,205,0.5)" stroke="rgba(40,40,110,0.42)"/>
<ellipse cx="1135.0" cy="850.0" rx="16.7" ry="13.5" fill="rgba(0,0,205,0.5)" stroke="rgba(40,40,110,0.42)"/>
<ellipse cx="1150.0" cy="828.0" rx="16.7" ry="13.5" fill="rgba(0,0,205,0.5)" stroke="rgba(40,40,110,0.42)"/>
<ellipse cx="1160.0" cy="840.0" rx="16.7" ry="13.5" fill="rgba(0,0,205,0.5)" stroke="rgba(40,40,110,0.42)"/>
<ellipse cx="1015.0" cy="850.0" rx="16.7" ry="13.5" fill="rgba(0,0,205,0.5)" stroke="rgba(40,40,110,0.42)"/>
<ellipse cx="1040.0" cy="860.0" rx="16.7" ry="13.5" fill="rgba(0,0,205,0.5)" stroke="rgba(40,40,110,0.42)"/>
<ellipse cx="1030.0" cy="888.0" rx="16.7" ry="13.5" fill="rgba(0,0,205,0.5)" stroke="rgba(40,40,110,0.42)"/>
<ellipse cx="935.3" cy="912.4" rx="16.7" ry="13.5" fill="rgba(0,0,205,0.5)" stroke="rgba(40,40,110,0.42)"/>
<ellipse cx="952.9" cy="891.2" rx="16.7" ry="13.5" fill="rgba(0,0,205,0.5)" stroke="rgba(40,40,110,0.42)"/>
<ellipse cx="976.5" cy="906.5" rx="16.7" ry="13.5" fill="rgba(0,0,205,0.5)" stroke="rgba(40,40,110,0.42)"/>
<ellipse cx="931.8" cy="935.9" rx="16.7" ry="13.5" fill="rgba(0,0,205,0.5)" stroke="rgba(40,40,110,0.42)"/>
<ellipse cx="847.1" cy="959.4" rx="16.7" ry="13.5" fill="rgba(0,0,205,0.5)" stroke="rgba(40,40,110,0.42)"/>
<ellipse cx="835.3" cy="977.1" rx="16.7" ry="13.5" fill="rgba(0,0,205,0.5)" stroke="rgba(40,40,110,0.42)"/>
<ellipse cx="894.1" cy="983.0" rx="16.7" ry="13.5" fill="rgba(0,0,205,0.5)" stroke="rgba(40,40,110,0.42)"/>
<ellipse cx="817.6" cy="983.0" rx="16.7" ry="13.5" fill="rgba(0,0,205,0.5)" stroke="rgba(40,40,110,0.42)"/>
<ellipse cx="915.0" cy="955.0" rx="16.7" ry="13.5" fill="rgba(0,0,205,0.5)" stroke="rgba(40,40,110,0.42)"/>
<ellipse cx="940.0" cy="970.0" rx="16.7" ry="13.5" fill="rgba(0,0,205,0.5)" stroke="rgba(40,40,110,0.42)"/>
<ellipse cx="1322.0" cy="650.4" rx="16.7" ry="13.5" fill="rgba(0,0,205,0.5)" stroke="rgba(40,40,110,0.42)"/>
<ellipse cx="1380.0" cy="688.0" rx="16.7" ry="13.5" fill="rgba(0,0,205,0.5)" stroke="rgba(40,40,110,0.42)"/>
<ellipse cx="866.0" cy="972.0" rx="16.7" ry="13.5" fill="rgba(0,0,205,0.5)" stroke="rgba(40,40,110,0.42)"/>
<ellipse cx="880.0" cy="992.0" rx="16.7" ry="13.5" fill="rgba(0,0,205,0.5)" stroke="rgba(40,40,110,0.42)"/>
</g>
<g fill="none" stroke-linecap="butt">
<line x1="281.9" y1="20.5" x2="281.9" y2="1511" stroke="#333" stroke-width="3.2"/>
<line x1="280.5" y1="21.8" x2="2096" y2="21.8" stroke="#404040" stroke-width="2.6"/>
<line x1="2094.7" y1="20.5" x2="2094.7" y2="1511" stroke="#7a7a7a" stroke-width="2.8"/>
<line x1="280.5" y1="1509.6" x2="2096" y2="1509.6" stroke="#606060" stroke-width="3.4"/>
<line x1="309.2" y1="1509" x2="309.2" y2="1535.5" stroke="#404040" stroke-width="2.6"/>
<line x1="251.3" y1="1395.2" x2="282" y2="1395.2" stroke="#383838" stroke-width="2.6"/>
<line x1="641.2" y1="1509" x2="641.2" y2="1535.5" stroke="#404040" stroke-width="2.6"/>
<line x1="251.3" y1="1145.2" x2="282" y2="1145.2" stroke="#383838" stroke-width="2.6"/>
<line x1="973.2" y1="1509" x2="973.2" y2="1535.5" stroke="#404040" stroke-width="2.6"/>
<line x1="251.3" y1="895.2" x2="282" y2="895.2" stroke="#383838" stroke-width="2.6"/>
<line x1="1305.1" y1="1509" x2="1305.1" y2="1535.5" stroke="#404040" stroke-width="2.6"/>
<line x1="251.3" y1="645.2" x2="282" y2="645.2" stroke="#383838" stroke-width="2.6"/>
<line x1="1637.1" y1="1509" x2="1637.1" y2="1535.5" stroke="#404040" stroke-width="2.6"/>
<line x1="251.3" y1="395.2" x2="282" y2="395.2" stroke="#383838" stroke-width="2.6"/>
<line x1="1969.0" y1="1509" x2="1969.0" y2="1535.5" stroke="#404040" stroke-width="2.6"/>
<line x1="251.3" y1="145.2" x2="282" y2="145.2" stroke="#383838" stroke-width="2.6"/>
<rect x="281.8" y="21.8" width="433.0" height="220.8" stroke="#383838" stroke-width="2.6"/>
</g>
<text transform="translate(622.00 1599.20) scale(69.0337 59.7451)" font-size="1" fill="#000" xml:space="preserve"><tspan>0</tspan></text>
<text transform="translate(953.96 1599.20) scale(69.0337 59.7451)" font-size="1" fill="#000" xml:space="preserve"><tspan>2</tspan></text>
<text transform="translate(1286.14 1599.20) scale(69.0337 59.7451)" font-size="1" fill="#000" xml:space="preserve"><tspan>4</tspan></text>
<text transform="translate(1617.65 1599.20) scale(69.0337 59.7451)" font-size="1" fill="#000" xml:space="preserve"><tspan>6</tspan></text>
<text transform="translate(1949.84 1599.20) scale(69.0337 59.7451)" font-size="1" fill="#000" xml:space="preserve"><tspan>8</tspan></text>
<text transform="translate(272.50 1599.91) scale(61.3680 56.8058)" font-size="1" fill="#000"  xml:space="preserve"><tspan>–</tspan></text>
<text transform="translate(310.18 1598.80) scale(70.0227 60.1510)" font-size="1" fill="#000"  xml:space="preserve"><tspan>2</tspan></text>
<text transform="translate(209.00 1160.56) rotate(-90) scale(55.2270 68.7846)" font-size="1" fill="#000" xml:space="preserve"><tspan>0</tspan></text>
<text transform="translate(209.00 910.56) rotate(-90) scale(55.2270 68.7846)" font-size="1" fill="#000" xml:space="preserve"><tspan>2</tspan></text>
<text transform="translate(209.00 660.38) rotate(-90) scale(55.2270 68.7846)" font-size="1" fill="#000" xml:space="preserve"><tspan>4</tspan></text>
<text transform="translate(209.00 410.75) rotate(-90) scale(55.2270 68.7846)" font-size="1" fill="#000" xml:space="preserve"><tspan>6</tspan></text>
<text transform="translate(209.00 160.56) rotate(-90) scale(55.2270 68.7846)" font-size="1" fill="#000" xml:space="preserve"><tspan>8</tspan></text>
<text transform="translate(209.57 1425.50) rotate(-90) scale(50.3902 59.7956)" font-size="1" fill="#000"  xml:space="preserve"><tspan>–</tspan></text>
<text transform="translate(209.30 1395.37) rotate(-90) scale(61.0229 69.4601)" font-size="1" fill="#000"  xml:space="preserve"><tspan>2</tspan></text>
<text transform="translate(1030.62 1684.02) scale(70.4294 59.6484)" font-size="1" fill="#000"  xml:space="preserve"><tspan>Exp. log </tspan><tspan font-style="italic">P</tspan></text>
<text transform="translate(74.79 907.48) rotate(-90) scale(58.2438 73.2731)" font-size="1" fill="#000"  xml:space="preserve"><tspan>Pred. log </tspan><tspan font-style="italic">P</tspan></text>
<ellipse cx="349.4" cy="95.6" rx="16.7" ry="13.5" fill="rgba(205,0,0,0.5)" stroke="rgba(120,30,30,0.42)" stroke-width="2.2"/>
<ellipse cx="349.4" cy="170.1" rx="16.7" ry="13.5" fill="rgba(0,0,205,0.5)" stroke="rgba(40,40,110,0.42)" stroke-width="2.2"/>
<text transform="translate(415.75 117.99) scale(74.9881 65.1197)" font-size="1" fill="#000"  xml:space="preserve"><tspan>MHlogP</tspan></text>
<text transform="translate(415.09 191.69) scale(75.7490 65.1197)" font-size="1" fill="#000"  xml:space="preserve"><tspan>MlogP</tspan></text>
<text transform="translate(1485.31 1299.50) scale(71.4086 57.6116)" font-size="1" fill="rgba(220,60,70,0.62)"  xml:space="preserve"><tspan font-style="italic">r</tspan></text>
<text transform="translate(1511.62 1267.80) scale(51.3646 42.3922)" font-size="1" fill="rgba(220,60,70,0.62)"  xml:space="preserve"><tspan>2</tspan></text>
<text transform="translate(1554.77 1299.00) scale(68.2667 50.1590)" font-size="1" fill="rgba(220,60,70,0.62)"  xml:space="preserve"><tspan>:</tspan></text>
<text transform="translate(1609.09 1298.71) scale(69.3297 60.5926)" font-size="1" fill="rgba(220,60,70,0.62)"  xml:space="preserve"><tspan>0.961</tspan></text>
<text transform="translate(1485.31 1363.00) scale(71.4086 57.6116)" font-size="1" fill="rgba(60,60,230,0.62)"  xml:space="preserve"><tspan font-style="italic">r</tspan></text>
<text transform="translate(1511.62 1331.30) scale(51.3646 42.3922)" font-size="1" fill="rgba(60,60,230,0.62)"  xml:space="preserve"><tspan>2</tspan></text>
<text transform="translate(1554.77 1362.50) scale(68.2667 50.1590)" font-size="1" fill="rgba(60,60,230,0.62)"  xml:space="preserve"><tspan>:</tspan></text>
<text transform="translate(1608.93 1362.21) scale(73.5878 60.5926)" font-size="1" fill="rgba(60,60,230,0.62)"  xml:space="preserve"><tspan>0.930</tspan></text>
</svg></body></html>
